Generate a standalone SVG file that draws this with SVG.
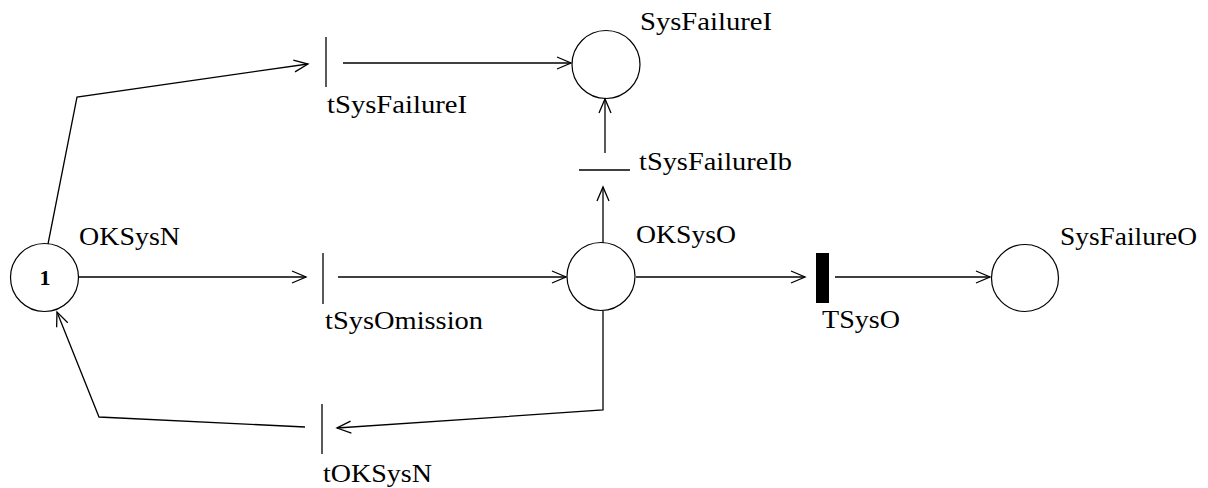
<svg xmlns="http://www.w3.org/2000/svg" width="1208" height="488" viewBox="0 0 1208 488">
  <style>
    .place { fill: none; stroke: #000; stroke-width: 1.2; }
    .bar { stroke: #000; stroke-width: 1.3; }
    .thick { fill: #000; }
    .arc { fill: none; stroke: #000; stroke-width: 1.3; marker-end: url(#arrow); }
    .lbl { font-family: "Liberation Serif", "Times New Roman", serif; font-size: 26px; fill: #000; }
    .tok { font-family: "Liberation Serif", "Times New Roman", serif; font-size: 22px; font-weight: bold; fill: #000; }
  </style>
  <defs>
    <marker id="arrow" markerUnits="userSpaceOnUse" markerWidth="20" markerHeight="16" viewBox="-16 -8 18 16" refX="0" refY="0" orient="auto">
      <path d="M -14 -6 L 0 0 L -14 6" fill="none" stroke="#000" stroke-width="1.3"/>
    </marker>
  </defs>

  <!-- places -->
  <g id="OKSysN">
    <circle class="place" cx="44.5" cy="277.5" r="34"/>
    <text class="tok" x="45" y="285" text-anchor="middle">1</text>
    <text class="lbl" x="79" y="245" textLength="101" lengthAdjust="spacingAndGlyphs">OKSysN</text>
  </g>
  <g id="OKSysO">
    <circle class="place" cx="601" cy="276.5" r="34"/>
    <text class="lbl" x="636" y="243" textLength="100" lengthAdjust="spacingAndGlyphs">OKSysO</text>
  </g>
  <g id="SysFailureI">
    <circle class="place" cx="606" cy="64.5" r="34"/>
    <text class="lbl" x="640" y="30" textLength="132" lengthAdjust="spacingAndGlyphs">SysFailureI</text>
  </g>
  <g id="SysFailureO">
    <circle class="place" cx="1025" cy="278" r="33.5"/>
    <text class="lbl" x="1060" y="245" textLength="137" lengthAdjust="spacingAndGlyphs">SysFailureO</text>
  </g>

  <!-- transitions -->
  <g id="tSysFailureI">
    <line class="bar" x1="326" y1="37" x2="326" y2="87"/>
    <text class="lbl" x="327" y="113" textLength="140" lengthAdjust="spacingAndGlyphs">tSysFailureI</text>
  </g>
  <g id="tSysOmission">
    <line class="bar" x1="323" y1="253" x2="323" y2="304"/>
    <text class="lbl" x="325" y="329" textLength="158" lengthAdjust="spacingAndGlyphs">tSysOmission</text>
  </g>
  <g id="tSysFailureIb">
    <line class="bar" x1="579" y1="170" x2="630" y2="170"/>
    <text class="lbl" x="639" y="170" textLength="153" lengthAdjust="spacingAndGlyphs">tSysFailureIb</text>
  </g>
  <g id="TSysO">
    <rect class="thick" x="816" y="253" width="13" height="50"/>
    <text class="lbl" x="822" y="328" textLength="78" lengthAdjust="spacingAndGlyphs">TSysO</text>
  </g>
  <g id="tOKSysN">
    <line class="bar" x1="322" y1="404" x2="322" y2="454"/>
    <text class="lbl" x="323" y="482" textLength="109" lengthAdjust="spacingAndGlyphs">tOKSysN</text>
  </g>

  <!-- arcs -->
  <g id="connectors">
    <polyline class="arc" points="48,244 77,97 308,64"/>
    <line class="arc" x1="343" y1="63" x2="571" y2="63"/>
    <line class="arc" x1="79" y1="277" x2="306" y2="277"/>
    <line class="arc" x1="338" y1="277" x2="566" y2="277"/>
    <line class="arc" x1="603" y1="243" x2="603" y2="187"/>
    <line class="arc" x1="605" y1="153" x2="605" y2="99"/>
    <line class="arc" x1="636" y1="277" x2="805" y2="277"/>
    <line class="arc" x1="835" y1="277" x2="990" y2="277"/>
    <polyline class="arc" points="603,311 603,410 337,428"/>
    <polyline class="arc" points="305,427 99,417 57,312"/>
  </g>
</svg>
